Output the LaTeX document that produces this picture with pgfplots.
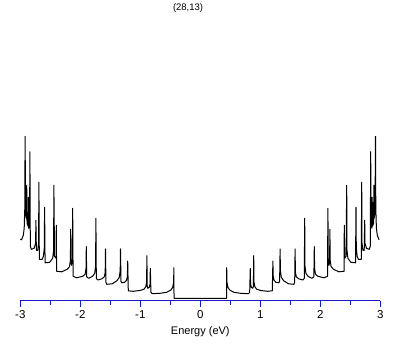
\documentclass[border=0pt]{standalone}
\usepackage{pgfplots}
\pgfplotsset{compat=1.18}
\usepackage{fontspec}
\setmainfont{Liberation Sans}
\definecolor{axblue}{RGB}{25,25,200}
\begin{document}
\begin{tikzpicture}[x=1pt,y=1pt]
\useasboundingbox (0,0) rectangle (409,345);
\begin{axis}[
  at={(20.3pt,44.3pt)}, anchor=south west,
  scale only axis, width=360pt, height=280.7pt,
  xmin=-3, xmax=3, ymin=-2.4, ymax=278.3,
  axis x line*=bottom, axis y line=none,
  axis line style={axblue, line width=0.9pt, -},
  xtick={-3,-2,-1,0,1,2,3},
  xticklabels={-3,-2,-1,0,1,2,3},
  minor xtick={-2.5,-1.5,-0.5,0.5,1.5,2.5},
  ytick=\empty,
  tick align=outside,
  major tick length=6pt, minor tick length=4pt,
  every tick/.style={axblue, line width=0.9pt},
  tick label style={font=\fontsize{11.5}{12}\selectfont, black},
  xlabel={Energy (eV)},
  xlabel style={font=\fontsize{11}{12}\selectfont, at={(axis description cs:0.5,0)}, anchor=center, yshift=-31pt},
  clip=false,
]
\addplot[black, line width=1pt, line join=round] coordinates {
(-3.0,59) (-2.98,58.5) (-2.97,60) (-2.95,63) (-2.935,70) (-2.925,90) (-2.92,162) (-2.912,85) (-2.898,80) (-2.893,113) (-2.888,75) (-2.87,72) (-2.865,101) (-2.86,70) (-2.845,75) (-2.84,146.6) (-2.833,52) (-2.815,49) (-2.77,50) (-2.745,55) (-2.74,78) (-2.732,48) (-2.71,48) (-2.695,55) (-2.69,116) (-2.683,39) (-2.635,39) (-2.615,42) (-2.6,50) (-2.595,91) (-2.587,35.5) (-2.51,36) (-2.46,40) (-2.445,48) (-2.44,113) (-2.43,42) (-2.405,40) (-2.40,73) (-2.395,27) (-2.31,26.5) (-2.22,29) (-2.18,31.6) (-2.165,38) (-2.16,69) (-2.155,36) (-2.145,33) (-2.132,40) (-2.127,90) (-2.12,22) (-2.06,20.5) (-1.96,22) (-1.92,24) (-1.905,30) (-1.9,51.6) (-1.893,21.5) (-1.86,20) (-1.795,22) (-1.76,25) (-1.745,32) (-1.74,80) (-1.733,20) (-1.71,18.3) (-1.64,19.5) (-1.6,21.5) (-1.585,26) (-1.58,49.3) (-1.573,16) (-1.56,14) (-1.47,14.5) (-1.39,17.5) (-1.35,21) (-1.335,28) (-1.33,49.3) (-1.322,17) (-1.31,15.5) (-1.26,16) (-1.23,18) (-1.215,22) (-1.21,37.3) (-1.2,7.5) (-1.12,7) (-1.01,7.8) (-0.94,9) (-0.91,11.5) (-0.895,16) (-0.89,42.6) (-0.885,12) (-0.875,10) (-0.85,11) (-0.838,14) (-0.833,30) (-0.823,6) (-0.8,4.6) (-0.67,5) (-0.56,6) (-0.49,8.3) (-0.46,11) (-0.445,16) (-0.44,30.6) (-0.438,0)
(0.438,0) (0.44,30.6) (0.445,16) (0.46,11) (0.49,8.3) (0.56,6) (0.67,5) (0.8,4.6) (0.823,6) (0.833,30) (0.838,14) (0.85,11) (0.875,10) (0.885,12) (0.89,42.6) (0.895,16) (0.91,11.5) (0.94,9) (1.01,7.8) (1.12,7) (1.2,7.5) (1.21,37.3) (1.215,22) (1.23,18) (1.26,16) (1.31,15.5) (1.322,17) (1.33,49.3) (1.335,28) (1.35,21) (1.39,17.5) (1.47,14.5) (1.56,14) (1.573,16) (1.58,49.3) (1.585,26) (1.6,21.5) (1.64,19.5) (1.71,18.3) (1.733,20) (1.74,80) (1.745,32) (1.76,25) (1.795,22) (1.86,20) (1.893,21.5) (1.9,51.6) (1.905,30) (1.92,24) (1.96,22) (2.06,20.5) (2.12,22) (2.127,90) (2.132,40) (2.145,33) (2.155,36) (2.16,69) (2.165,38) (2.18,31.6) (2.22,29) (2.31,26.5) (2.395,27) (2.40,73) (2.405,40) (2.43,42) (2.44,113) (2.445,48) (2.46,40) (2.51,36) (2.587,35.5) (2.595,91) (2.6,50) (2.615,42) (2.635,39) (2.683,39) (2.69,116) (2.695,55) (2.71,48) (2.732,48) (2.74,78) (2.745,55) (2.77,50) (2.815,49) (2.833,52) (2.84,146.6) (2.845,75) (2.86,70) (2.865,101) (2.87,72) (2.888,75) (2.893,113) (2.898,80) (2.912,85) (2.92,162) (2.925,90) (2.935,70) (2.95,63) (2.97,60) (2.98,58.5)
};
\node[font=\fontsize{9.5}{10}\selectfont, anchor=center] at (axis description cs:0.466,1.043) {(28,13)};
\end{axis}
\end{tikzpicture}
\end{document}
